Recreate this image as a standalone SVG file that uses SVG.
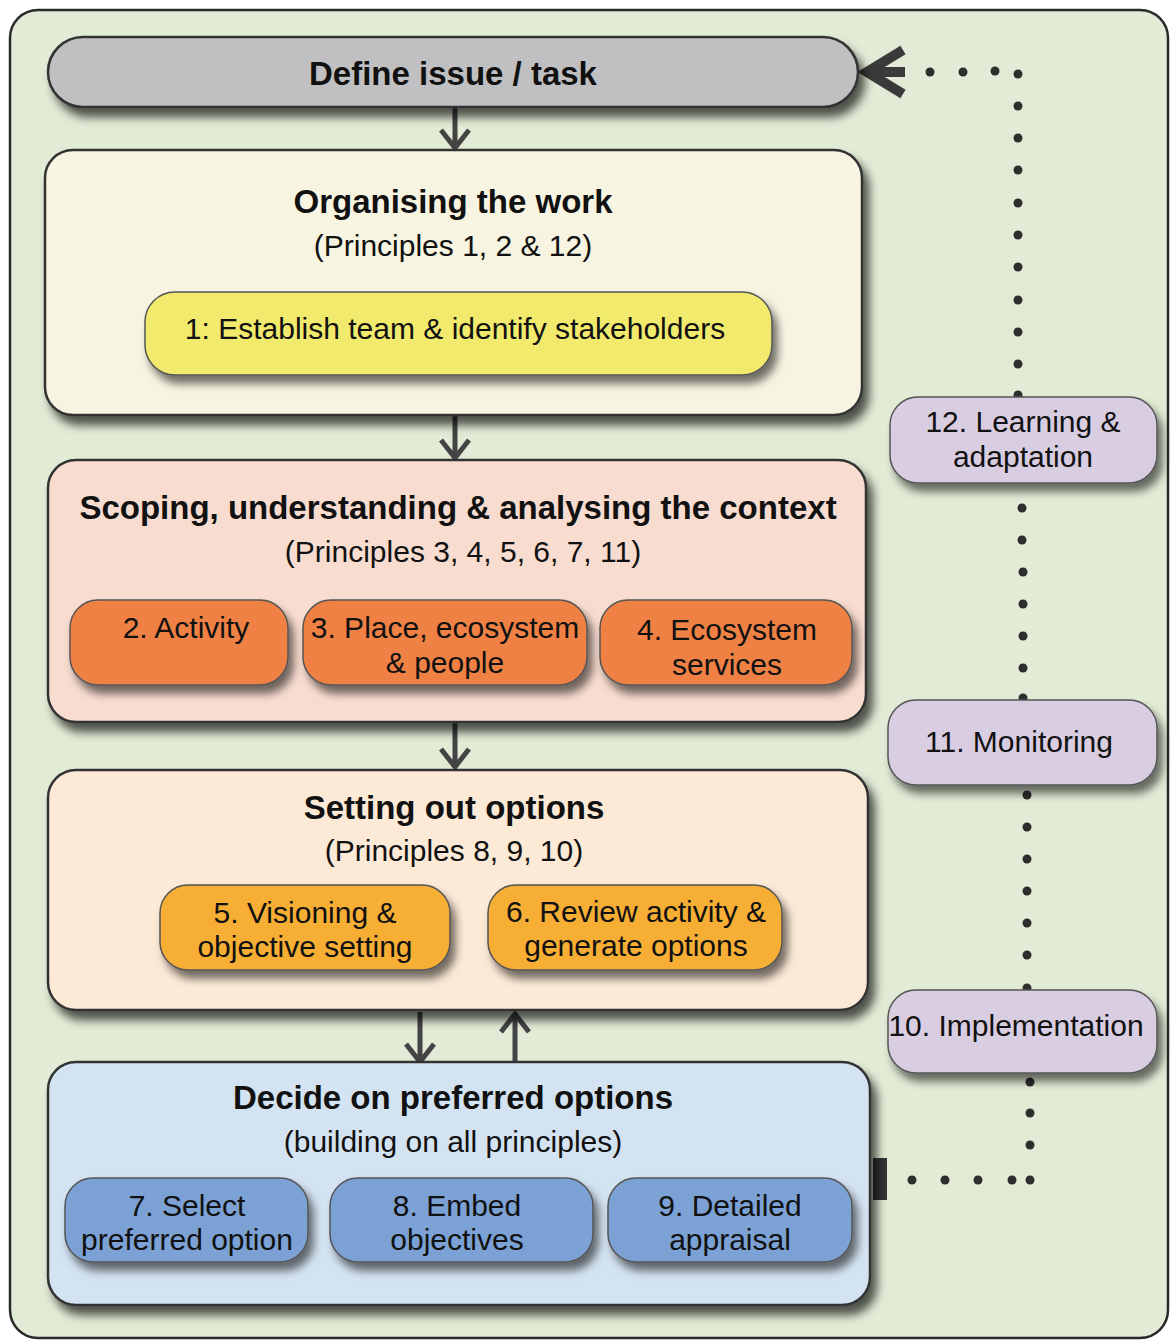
<svg xmlns="http://www.w3.org/2000/svg" width="1173" height="1344" viewBox="0 0 1173 1344">
<defs>
<filter id="sh" x="-10%" y="-20%" width="125%" height="150%">
<feDropShadow dx="6" dy="9" stdDeviation="5" flood-color="#000" flood-opacity="0.65"/>
</filter>
<filter id="shs" x="-10%" y="-20%" width="125%" height="150%">
<feDropShadow dx="5" dy="8" stdDeviation="4" flood-color="#000" flood-opacity="0.55"/>
</filter>
</defs>
<style>
text{font-family:"Liberation Sans",Arial,sans-serif;fill:#111;text-anchor:middle}
.t{font-size:33px;font-weight:bold}
.s{font-size:30px}
.p{font-size:30px}
.box{stroke:#333;stroke-width:2.5}
.pill{stroke:#555;stroke-width:1.5}
.arr{fill:none;stroke:#444;stroke-width:5;stroke-linecap:butt}
.dot{fill:#2e2e2e}
</style>
<rect x="10" y="10" width="1158" height="1328" rx="28" fill="#e1ebd5" stroke="#2a2a2a" stroke-width="2.5"/>

<g id="connectors">
<path class="arr" d="M455 107 V148 M441 130 L455 148 L469 130"/>
<path class="arr" d="M455 415 V458 M441 440 L455 458 L469 440"/>
<path class="arr" d="M455 722 V767 M441 749 L455 767 L469 749"/>
<path class="arr" d="M420 1012 V1062 M406 1044 L420 1062 L434 1044"/>
<path class="arr" d="M515 1062 V1014 M501 1032 L515 1014 L529 1032"/>
<rect x="873" y="1158" width="14" height="42" fill="#333"/>
<path d="M903 50 L867 72 L903 94 M867 72 H905" fill="none" stroke="#3a3a3a" stroke-width="10" stroke-linejoin="miter"/>
<g class="dot">
<circle cx="930" cy="72" r="4.5"/><circle cx="963" cy="72" r="4.5"/><circle cx="995" cy="71" r="4.5"/><circle cx="1018" cy="74" r="4.5"/>
<circle cx="1018" cy="106" r="4.5"/><circle cx="1018" cy="138" r="4.5"/><circle cx="1018" cy="170" r="4.5"/><circle cx="1018" cy="203" r="4.5"/><circle cx="1018" cy="235" r="4.5"/><circle cx="1018" cy="267" r="4.5"/><circle cx="1018" cy="300" r="4.5"/><circle cx="1018" cy="332" r="4.5"/><circle cx="1018" cy="364" r="4.5"/><circle cx="1018" cy="395" r="4.5"/>
<circle cx="1022" cy="508" r="4.5"/><circle cx="1022" cy="540" r="4.5"/><circle cx="1023" cy="572" r="4.5"/><circle cx="1023" cy="604" r="4.5"/><circle cx="1023" cy="636" r="4.5"/><circle cx="1023" cy="668" r="4.5"/><circle cx="1023" cy="698" r="4.5"/>
<circle cx="1027" cy="795" r="4.5"/><circle cx="1027" cy="827" r="4.5"/><circle cx="1027" cy="859" r="4.5"/><circle cx="1027" cy="891" r="4.5"/><circle cx="1027" cy="923" r="4.5"/><circle cx="1027" cy="955" r="4.5"/><circle cx="1027" cy="988" r="4.5"/>
<circle cx="1030" cy="1082" r="4.5"/><circle cx="1030" cy="1113" r="4.5"/><circle cx="1030" cy="1145" r="4.5"/><circle cx="1030" cy="1180" r="4.5"/>
<circle cx="912" cy="1180" r="4.5"/><circle cx="945" cy="1180" r="4.5"/><circle cx="978" cy="1180" r="4.5"/><circle cx="1012" cy="1180" r="4.5"/>
</g>
</g>

<g id="define">
<rect class="box" x="48" y="37" width="810" height="70" rx="35" fill="#c0c0c2" filter="url(#sh)"/>
<text class="t" x="453" y="85">Define issue / task</text>
</g>

<g id="organising">
<rect class="box" x="45" y="150" width="817" height="265" rx="28" fill="#f7f4e1" filter="url(#sh)"/>
<text class="t" x="453" y="213">Organising the work</text>
<text class="s" x="453" y="256">(Principles 1, 2 &amp; 12)</text>
</g>
<g id="n1">
<rect class="pill" x="145" y="292" width="627" height="83" rx="30" fill="#f1ea6c" filter="url(#shs)"/>
<text class="p" x="455" y="339">1: Establish team &amp; identify stakeholders</text>
</g>

<g id="scoping">
<rect class="box" x="48" y="460" width="818" height="262" rx="28" fill="#f8dccf" filter="url(#sh)"/>
<text class="t" x="458" y="519">Scoping, understanding &amp; analysing the context</text>
<text class="s" x="463" y="562">(Principles 3, 4, 5, 6, 7, 11)</text>
</g>
<g id="n2">
<rect class="pill" x="70" y="600" width="218" height="85" rx="28" fill="#ef8145" filter="url(#shs)"/>
<text class="p" x="186" y="638">2. Activity</text>
</g>
<g id="n3">
<rect class="pill" x="303" y="600" width="284" height="85" rx="28" fill="#ef8145" filter="url(#shs)"/>
<text class="p" x="445" y="638">3. Place, ecosystem</text>
<text class="p" x="445" y="673">&amp; people</text>
</g>
<g id="n4">
<rect class="pill" x="600" y="600" width="252" height="85" rx="28" fill="#ef8145" filter="url(#shs)"/>
<text class="p" x="727" y="640">4. Ecosystem</text>
<text class="p" x="727" y="675">services</text>
</g>

<g id="setting">
<rect class="box" x="48" y="770" width="820" height="240" rx="28" fill="#fce9d6" filter="url(#sh)"/>
<text class="t" x="454" y="819">Setting out options</text>
<text class="s" x="454" y="861">(Principles 8, 9, 10)</text>
</g>
<g id="n5">
<rect class="pill" x="160" y="885" width="290" height="85" rx="28" fill="#f7ae35" filter="url(#shs)"/>
<text class="p" x="305" y="923">5. Visioning &amp;</text>
<text class="p" x="305" y="957">objective setting</text>
</g>
<g id="n6">
<rect class="pill" x="488" y="885" width="294" height="85" rx="28" fill="#f7ae35" filter="url(#shs)"/>
<text class="p" x="636" y="922">6. Review activity &amp;</text>
<text class="p" x="636" y="956">generate options</text>
</g>

<g id="decide">
<rect class="box" x="48" y="1062" width="822" height="243" rx="28" fill="#d3e3f1" filter="url(#sh)"/>
<text class="t" x="453" y="1109">Decide on preferred options</text>
<text class="s" x="453" y="1152">(building on all principles)</text>
</g>
<g id="n7">
<rect class="pill" x="65" y="1178" width="243" height="84" rx="28" fill="#7ba1d5" filter="url(#shs)"/>
<text class="p" x="187" y="1216">7. Select</text>
<text class="p" x="187" y="1250">preferred option</text>
</g>
<g id="n8">
<rect class="pill" x="330" y="1178" width="263" height="84" rx="28" fill="#7ba1d5" filter="url(#shs)"/>
<text class="p" x="457" y="1216">8. Embed</text>
<text class="p" x="457" y="1250">objectives</text>
</g>
<g id="n9">
<rect class="pill" x="608" y="1178" width="244" height="84" rx="28" fill="#7ba1d5" filter="url(#shs)"/>
<text class="p" x="730" y="1216">9. Detailed</text>
<text class="p" x="730" y="1250">appraisal</text>
</g>

<g id="n12">
<rect class="pill" x="890" y="397" width="267" height="86" rx="28" fill="#d9cde2" filter="url(#shs)"/>
<text class="p" x="1023" y="432">12. Learning &amp;</text>
<text class="p" x="1023" y="467">adaptation</text>
</g>
<g id="n11">
<rect class="pill" x="888" y="700" width="269" height="85" rx="28" fill="#d9cde2" filter="url(#shs)"/>
<text class="p" x="1019" y="752">11. Monitoring</text>
</g>
<g id="n10">
<rect class="pill" x="888" y="990" width="269" height="83" rx="28" fill="#d9cde2" filter="url(#shs)"/>
<text class="p" x="1016" y="1036">10. Implementation</text>
</g>
</svg>
